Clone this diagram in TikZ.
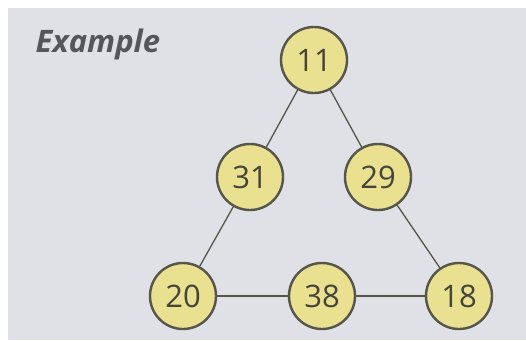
\documentclass[tikz,border=0pt]{standalone}
\usepackage{fontspec}
\setmainfont{Open Sans}
\usetikzlibrary{positioning}
\definecolor{pagebg}{HTML}{DFE1E6}
\definecolor{discfill}{HTML}{E9E18F}
\definecolor{discline}{HTML}{55554A}
\definecolor{titlegrey}{HTML}{54565C}

\begin{document}
\begin{tikzpicture}[x=1pt,y=-1pt,
	numnode/.style={circle,fill=discfill,draw=discline,line width=2.4pt,inner sep=0pt,minimum size=66pt,font=\fontsize{31}{31}\selectfont,text=discline!80!black},
	link/.style={draw=discline,line width=1.3pt}
	]
	\useasboundingbox (0,0) rectangle (526,340);
	\fill[white] (0,0) rectangle (526,340);
	\fill[pagebg] (8,8) rectangle (526,340);

	\node[anchor=west,text=titlegrey,font=\fontsize{31}{31}\selectfont\bfseries\itshape] (title) at (32,44) {Example};

	\node[numnode] (n11) at (314,60) {11};
	\node[numnode] (n31) at (250,177) {31};
	\node[numnode] (n29) at (378,177) {29};
	\node[numnode] (n20) at (183,296) {20};
	\node[numnode] (n38) at (322,296) {38};
	\node[numnode] (n18) at (459,296) {18};

	\draw[link] (n11) -- (n31);
	\draw[link] (n31) -- (n20);
	\draw[link] (n11) -- (n29);
	\draw[link] (n29) -- (n18);
	\draw[link] (n20) -- (n38);
	\draw[link] (n38) -- (n18);
\end{tikzpicture}
\end{document}
